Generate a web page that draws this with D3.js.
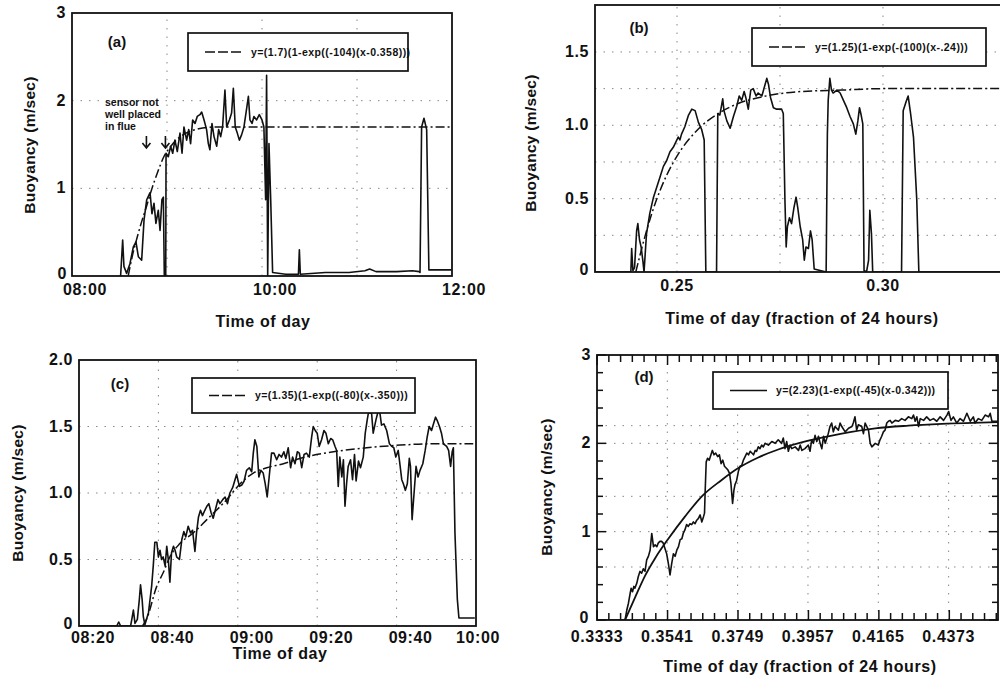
<!DOCTYPE html>
<html>
<head>
<meta charset="utf-8">
<script src="https://cdn.jsdelivr.net/npm/d3@7"></script>
<style>
  body { margin: 0; background: #fff; }
  svg text { font-family: "Liberation Sans", Arial, Helvetica, sans-serif; font-weight: bold; fill: #111; }
</style>
</head>
<body>
<svg id="fig" width="1000" height="680"></svg>
<script>
// ---- panel (a): minutes after 08:00, buoyancy m/s
const aSeries = [[30.7,0],[32.0,0.41],[32.8,0.11],[34.5,0.03],[36.6,0.14],[38.7,0.33],[40.4,0.39],[41.9,0.22],[44.0,0.18],
  [45.5,0.64],[47.2,0.87],[49.3,0.95],[50.5,0.71],[51.8,0.83],[53.0,0.60],[54.5,0.75],[55.6,0.52],[56.8,0.87],[57.7,0.90],
  [58.3,0],[59.2,0],[59.4,1.40],[60.8,1.36],[62.3,1.48],[63.6,1.40],[65.0,1.55],[66.5,1.42],[68.2,1.63],[69.5,1.40],
  [70.7,1.70],[72.4,1.55],[73.7,1.67],[74.9,1.51],[76.2,1.78],[77.7,1.74],[79.1,1.82],[80.8,1.84],[81.9,1.87],[83.4,1.78],
  [85.0,1.67],[86.1,1.51],[87.1,1.44],[88.4,1.74],[89.7,1.59],[91.4,1.48],[92.6,1.67],[93.9,1.59],[95.1,1.70],[96.6,2.12],
  [97.7,1.70],[99.4,1.78],[100.8,1.86],[101.9,2.14],[103.1,1.70],[104.4,1.63],[105.7,1.55],[107.1,1.61],[108.6,1.70],
  [109.9,1.86],[111.4,2.05],[112.4,1.78],[113.7,1.74],[114.9,1.82],[116.6,1.78],[118.3,1.84],[120.0,1.78],[121.2,1.70],
  [122.3,0.87],[122.9,2.29],[123.6,0],[124.4,1.51],[125.5,0.87],[126.7,0.04],[135,0.02],[143.0,0.02],[143.6,0.30],
  [144.2,0.02],[160,0.04],[175,0.04],[185,0.06],[188,0.08],[192,0.05],[205,0.05],[215,0.06],[219.3,0.05],[219.8,0.04],
  [220.8,1.70],[222.3,1.80],[224.0,1.67],[225.4,0.07],[239.8,0.07]];
const aFit = [[35.5,0],[38,0.22],[41,0.43],[44,0.62],[47,0.79],[50,0.97],[54,1.18],[58,1.36],[62,1.47],[67,1.57],
  [72,1.63],[80,1.68],[90,1.70],[240,1.70]];
const aXTicks = [0, 120, 240];
const aXLabels = ["08:00", "10:00", "12:00"];
const aYTicks = [0, 1, 2, 3];
const aYLabels = ["0", "1", "2", "3"];

// ---- panel (b): fraction of 24 hours
const bSeries = [[0.2301,0],[0.2388,0],[0.2390,0.16],[0.2393,0.01],[0.2397,0.03],[0.2402,0.28],[0.2405,0.33],[0.2409,0.22],
  [0.2413,0.17],[0.2417,0.08],[0.2420,0],[0.2426,0.26],[0.2434,0.40],[0.2443,0.51],[0.2451,0.58],[0.2459,0.65],[0.2467,0.72],
  [0.2475,0.76],[0.2483,0.82],[0.2491,0.85],[0.2498,0.89],[0.2503,0.92],[0.2507,0.90],[0.2511,0.94],[0.2519,0.99],
  [0.2528,1.07],[0.2536,1.11],[0.2544,1.10],[0.2552,1.02],[0.2560,0.97],[0.2566,0.90],[0.2570,0],[0.2596,0],[0.2599,1.08],
  [0.2604,1.07],[0.2611,1.18],[0.2614,1.10],[0.2621,1.03],[0.2629,0.98],[0.2637,1.06],[0.2645,1.13],[0.2651,1.20],
  [0.2657,1.17],[0.2663,1.23],[0.2667,1.19],[0.2673,1.11],[0.2679,1.24],[0.2685,1.25],[0.2692,1.20],[0.2697,1.22],
  [0.2706,1.20],[0.2714,1.28],[0.2718,1.32],[0.2722,1.28],[0.2727,1.19],[0.2734,1.12],[0.2742,1.11],[0.2754,1.11],
  [0.2758,1.08],[0.2762,0.49],[0.2765,0.17],[0.2768,0.31],[0.2773,0.37],[0.2778,0.33],[0.2784,0.44],[0.2789,0.51],
  [0.2793,0.44],[0.2799,0.31],[0.2805,0.22],[0.2809,0.08],[0.2813,0.17],[0.2819,0.16],[0.2824,0.28],[0.2828,0.22],
  [0.2833,0.02],[0.2862,0],[0.2865,0.94],[0.2867,1.17],[0.2871,1.32],[0.2875,1.24],[0.2879,1.22],[0.2888,1.24],
  [0.2896,1.22],[0.2904,1.17],[0.2912,1.12],[0.2920,1.06],[0.2928,1.01],[0.2934,0.94],[0.2939,1.03],[0.2943,1.12],
  [0.2947,1.07],[0.2951,1.01],[0.2954,0.01],[0.2960,0],[0.2965,0.08],[0.2968,0.42],[0.2972,0.26],[0.2975,0],[0.3045,0],
  [0.3049,1.10],[0.3056,1.16],[0.3061,1.20],[0.3067,1.08],[0.3074,0.92],[0.3082,0.49],[0.3087,0],[0.3300,0]];
const bFit = [[0.2400,0],[0.2425,0.27],[0.2450,0.49],[0.2475,0.66],[0.2500,0.79],[0.2550,0.97],[0.2600,1.08],[0.2650,1.15],
  [0.2700,1.19],[0.2800,1.23],[0.2900,1.24],[0.3000,1.25],[0.3300,1.25]];
const bXTicks = [0.25, 0.30];
const bXLabels = ["0.25", "0.30"];
const bYTicks = [0, 0.5, 1.0, 1.5];
const bYLabels = ["0", "0.5", "1.0", "1.5"];

// ---- panel (c): minutes after 08:00
const cSeries = [[20,0],[29.5,0],[30.0,0.03],[30.5,0],[33.0,0],[33.3,0.05],[33.7,0.12],[34.1,0.02],[34.7,0.05],[35.2,0.20],
  [35.5,0.31],[35.9,0.20],[36.2,0.07],[36.6,0.01],[37.0,0.05],[37.5,0.10],[37.9,0.20],[38.3,0.30],[38.7,0.45],[39.1,0.63],
  [39.6,0.63],[40.0,0.52],[40.4,0.57],[40.8,0.50],[41.2,0.52],[41.7,0.45],[42.1,0.60],[42.5,0.50],[42.9,0.33],[43.3,0.55],
  [43.8,0.60],[44.2,0.57],[44.6,0.52],[45.3,0.50],[45.9,0.65],[46.4,0.71],[46.9,0.67],[47.5,0.75],[48.1,0.70],[48.6,0.72],
  [49.2,0.56],[49.6,0.70],[50.1,0.82],[50.6,0.87],[51.1,0.83],[51.7,0.87],[52.2,0.90],[52.7,0.92],[53.3,0.85],[53.8,0.81],
  [54.4,0.88],[55.0,0.95],[55.5,0.92],[56.2,0.95],[56.8,0.97],[57.4,0.92],[58.0,1.00],[58.7,1.04],[59.3,1.10],[59.7,1.14],
  [60.4,1.05],[61.0,1.06],[61.6,1.09],[62.2,1.17],[62.9,1.19],[63.5,1.16],[63.9,1.30],[64.3,1.40],[64.8,1.35],[65.3,1.12],
  [65.8,1.17],[66.4,1.15],[66.9,1.07],[67.4,0.97],[67.9,1.12],[68.5,1.30],[69.1,1.30],[69.8,1.25],[70.4,1.29],[71.0,1.27],
  [71.6,1.31],[72.1,1.26],[72.7,1.34],[73.3,1.19],[73.8,1.27],[74.4,1.22],[75.0,1.31],[75.5,1.30],[76.1,1.19],[76.7,1.29],
  [77.3,1.30],[78.0,1.27],[78.6,1.42],[79.0,1.50],[79.5,1.47],[80.0,1.45],[80.5,1.35],[81.1,1.40],[81.7,1.47],[82.2,1.45],
  [82.8,1.37],[83.4,1.41],[83.9,1.40],[84.5,1.35],[84.9,1.32],[85.3,1.05],[85.7,1.27],[86.2,1.12],[86.6,1.25],[87.0,0.90],
  [87.4,1.07],[87.8,1.20],[88.4,1.25],[88.9,1.10],[89.4,1.29],[89.8,1.09],[90.4,1.24],[90.9,1.19],[91.6,1.27],[92.1,1.45],
  [92.6,1.55],[93.0,1.62],[93.3,1.60],[93.7,1.60],[94.1,1.45],[94.8,1.55],[95.4,1.62],[95.8,1.60],[96.2,1.51],[96.8,1.52],
  [97.5,1.47],[98.2,1.37],[98.8,1.35],[99.3,1.34],[99.8,1.27],[100.4,1.32],[100.9,1.20],[101.3,1.10],[101.7,1.07],
  [102.2,1.02],[102.7,1.07],[103.2,1.26],[103.5,1.20],[103.9,0.80],[104.4,1.00],[104.9,1.20],[105.4,1.12],[105.9,1.17],
  [106.6,1.22],[107.2,1.32],[107.7,1.42],[108.2,1.50],[108.8,1.47],[109.3,1.52],[109.8,1.57],[110.3,1.54],[110.8,1.50],
  [111.3,1.45],[111.8,1.37],[112.2,1.36],[112.6,1.35],[113.1,1.32],[113.6,1.20],[114.0,1.31],[114.3,1.34],[114.7,0.70],
  [115.3,0.20],[115.7,0.06],[119.7,0.06]];
const cFit = [[36.0,0],[37.0,0.05],[39.6,0.30],[41.2,0.40],[42.9,0.52],[45.4,0.62],[48.8,0.70],[52.2,0.80],[57.2,0.95],
  [60.6,1.07],[63.9,1.15],[67.3,1.19],[71.5,1.22],[75.7,1.26],[84.1,1.31],[92.5,1.34],[100.9,1.36],[109.2,1.37],[119.3,1.37]];
const cXTicks = [20, 40, 60, 80, 100, 120];
const cXLabels = ["08:20", "08:40", "09:00", "09:20", "09:40", "10:00"];
const cYTicks = [0, 0.5, 1.0, 1.5, 2.0];
const cYLabels = ["0", "0.5", "1.0", "1.5", "2.0"];

// ---- panel (d): fraction of 24 hours
const dSeries = [[0.3333,0],[0.3416,0],[0.3421,0.11],[0.3426,0.19],[0.3431,0.30],[0.3434,0.36],[0.3438,0.32],[0.3442,0.38],
  [0.3445,0.36],[0.3451,0.42],[0.3455,0.49],[0.3460,0.55],[0.3465,0.53],[0.3470,0.58],[0.3475,0.55],[0.3480,0.68],
  [0.3485,0.72],[0.3490,0.79],[0.3495,0.98],[0.3500,0.83],[0.3505,0.85],[0.3510,0.83],[0.3514,0.87],[0.3519,0.89],
  [0.3524,0.89],[0.3529,0.87],[0.3534,0.81],[0.3539,0.75],[0.3544,0.64],[0.3549,0.51],[0.3554,0.64],[0.3559,0.75],
  [0.3564,0.72],[0.3569,0.79],[0.3574,0.83],[0.3579,0.91],[0.3584,0.92],[0.3588,0.98],[0.3593,1.02],[0.3598,1.08],
  [0.3603,1.06],[0.3608,1.09],[0.3613,1.08],[0.3618,1.11],[0.3623,1.09],[0.3628,1.13],[0.3633,1.15],[0.3638,1.19],
  [0.3643,1.11],[0.3648,1.17],[0.3651,1.21],[0.3653,1.47],[0.3656,1.79],[0.3660,1.83],[0.3665,1.81],[0.3670,1.87],
  [0.3674,1.92],[0.3679,1.87],[0.3684,1.89],[0.3690,1.85],[0.3695,1.87],[0.3700,1.77],[0.3705,1.81],[0.3710,1.74],
  [0.3715,1.72],[0.3720,1.70],[0.3725,1.66],[0.3729,1.55],[0.3734,1.32],[0.3738,1.47],[0.3741,1.53],[0.3746,1.58],
  [0.3751,1.68],[0.3756,1.74],[0.3761,1.75],[0.3766,1.81],[0.3771,1.85],[0.3776,1.89],[0.3781,1.87],[0.3786,1.91],
  [0.3791,1.89],[0.3796,1.87],[0.3801,1.92],[0.3805,1.91],[0.3810,1.96],[0.3815,1.94],[0.3820,1.98],[0.3825,1.96],
  [0.3830,2.00],[0.3840,1.98],[0.3850,2.02],[0.3860,2.00],[0.3869,2.04],[0.3879,2.00],[0.3884,2.06],[0.3889,1.94],
  [0.3894,2.02],[0.3899,1.91],[0.3904,1.98],[0.3909,1.94],[0.3919,1.96],[0.3929,1.92],[0.3934,1.98],[0.3939,1.92],
  [0.3948,1.94],[0.3958,1.98],[0.3963,1.91],[0.3968,2.04],[0.3973,2.00],[0.3978,2.09],[0.3983,2.02],[0.3988,2.08],
  [0.3993,2.00],[0.3998,1.94],[0.4003,2.08],[0.4008,2.00],[0.4017,2.11],[0.4022,2.19],[0.4027,2.23],[0.4032,2.13],
  [0.4037,2.19],[0.4047,2.15],[0.4052,2.23],[0.4057,2.19],[0.4067,2.13],[0.4077,2.17],[0.4087,2.19],[0.4091,2.23],
  [0.4096,2.30],[0.4101,2.15],[0.4106,2.21],[0.4116,2.19],[0.4121,2.11],[0.4126,2.23],[0.4131,2.19],[0.4136,2.15],
  [0.4141,2.00],[0.4146,1.96],[0.4156,2.00],[0.4165,1.98],[0.4170,2.04],[0.4175,2.08],[0.4180,2.13],[0.4185,2.15],
  [0.4190,2.23],[0.4195,2.25],[0.4200,2.26],[0.4205,2.23],[0.4215,2.26],[0.4225,2.25],[0.4234,2.28],[0.4244,2.26],
  [0.4254,2.30],[0.4264,2.28],[0.4269,2.32],[0.4274,2.25],[0.4279,2.30],[0.4284,2.19],[0.4289,2.28],[0.4299,2.26],
  [0.4308,2.30],[0.4318,2.26],[0.4328,2.28],[0.4338,2.25],[0.4348,2.30],[0.4358,2.26],[0.4368,2.32],[0.4373,2.36],
  [0.4380,2.26],[0.4387,2.30],[0.4397,2.23],[0.4407,2.28],[0.4417,2.25],[0.4427,2.34],[0.4437,2.25],[0.4446,2.30],
  [0.4451,2.23],[0.4461,2.28],[0.4471,2.26],[0.4481,2.32],[0.4491,2.30],[0.4496,2.34],[0.4501,2.25],[0.4511,2.25],[0.4519,2.25]];
const dFit = [[0.3416,0],[0.3445,0.25],[0.3475,0.50],[0.3505,0.70],[0.3544,0.92],[0.3593,1.17],[0.3643,1.40],[0.3700,1.58],
  [0.3751,1.72],[0.3810,1.84],[0.3869,1.93],[0.3958,2.03],[0.4057,2.11],[0.4156,2.17],[0.4254,2.20],[0.4353,2.22],[0.4519,2.24]];
const dXTicks = [0.3333, 0.3541, 0.3749, 0.3957, 0.4165, 0.4373];
const dXLabels = ["0.3333", "0.3541", "0.3749", "0.3957", "0.4165", "0.4373"];
const dYTicks = [0, 1, 2, 3];
const dYLabels = ["0", "1", "2", "3"];

const legendTexts = ["y=(1.7)(1-exp((-104)(x-0.358)))", "y=(1.25)(1-exp(-(100)(x-.24)))",
  "y=(1.35)(1-exp((-80)(x-.350)))", "y=(2.23)(1-exp((-45)(x-0.342)))"];

const svg = d3.select("#fig");
const dashFit = "9,3,2,3";

function drawPanel(p) {
  const x = d3.scaleLinear().domain(p.xDomain).range(p.xRange);
  const y = d3.scaleLinear().domain(p.yDomain).range(p.yRange);
  const [x0, x1] = p.xRange;
  const [yb, yt] = p.yRange;
  const g = svg.append("g");

  svg.append("clipPath").attr("id", "clip-" + p.id)
    .append("rect").attr("x", x0).attr("y", yt).attr("width", x1 - x0).attr("height", yb - yt);

  // dotted grid, faint like the scan
  g.append("g").selectAll("line").data(p.yGrid).join("line")
    .attr("x1", x0).attr("x2", x1).attr("y1", d => y(d)).attr("y2", d => y(d))
    .attr("stroke", "#888").attr("stroke-width", 1).attr("stroke-dasharray", "1.5,7");
  g.append("g").selectAll("line").data(p.xGrid).join("line")
    .attr("y1", yb).attr("y2", yt).attr("x1", d => x(d)).attr("x2", d => x(d))
    .attr("stroke", "#888").attr("stroke-width", 1).attr("stroke-dasharray", "1.5,7");

  // minor ticks (panel d)
  if (p.minorX) {
    [[yb, -1], [yt, 1]].forEach(([base, dir]) => {
      g.append("g").selectAll("line").data(p.minorX).join("line")
        .attr("x1", d => x(d)).attr("x2", d => x(d)).attr("y1", base)
        .attr("y2", (d, i) => base + dir * (i % 6 === 0 ? 10 : 7))
        .attr("stroke", "#111").attr("stroke-width", 1.5);
    });
  }
  if (p.minorY) {
    [[x0, 1], [x1, -1]].forEach(([base, dir]) => {
      g.append("g").selectAll("line").data(p.minorY).join("line")
        .attr("y1", d => y(d)).attr("y2", d => y(d)).attr("x1", base)
        .attr("x2", (d, i) => base + dir * (i % 5 === 0 ? 9 : 6))
        .attr("stroke", "#111").attr("stroke-width", 1.5);
    });
  }

  // fit curve and measured series
  const line = d3.line().x(d => x(d[0])).y(d => y(d[1]));
  g.append("path").attr("clip-path", `url(#clip-${p.id})`)
    .attr("d", line.curve(d3.curveMonotoneX)(p.fit))
    .attr("fill", "none").attr("stroke", "#111").attr("stroke-width", p.fitSolid ? 1.8 : 1.5)
    .attr("stroke-dasharray", p.fitSolid ? null : dashFit);
  g.append("path").attr("clip-path", `url(#clip-${p.id})`)
    .attr("d", line.curve(d3.curveLinear)(p.series))
    .attr("fill", "none").attr("stroke", "#111").attr("stroke-width", 1.6).attr("stroke-linejoin", "round");

  // frame
  g.append("rect").attr("x", x0).attr("y", yt).attr("width", x1 - x0).attr("height", yb - yt)
    .attr("fill", "none").attr("stroke", "#111").attr("stroke-width", 1.8);

  // tick labels
  g.append("g").selectAll("text").data(p.xTicks).join("text")
    .attr("x", (d, i) => x(d) + (i === p.xTicks.length - 1 ? p.xDxLast : p.xDx))
    .attr("y", yb + p.xLabelDy).attr("text-anchor", "middle").attr("font-size", 16).attr("letter-spacing", 0.6)
    .text((d, i) => p.xLabels[i]);
  g.append("g").selectAll("text").data(p.yTicks).join("text")
    .attr("x", d => x0 - (d === 0 ? p.zeroDx : 6)).attr("y", d => y(d) + (d === 0 ? 3 : 5))
    .attr("text-anchor", "end").attr("font-size", 16)
    .attr("letter-spacing", 0.6).text((d, i) => p.yLabels[i]);

  // axis titles
  g.append("text").attr("x", p.xTitlePos[0]).attr("y", p.xTitlePos[1]).attr("text-anchor", "middle")
    .attr("font-size", 16).attr("letter-spacing", 0.6).text(p.xTitle);
  g.append("text").attr("transform", `translate(${p.yTitlePos[0]},${p.yTitlePos[1]}) rotate(-90)`)
    .attr("text-anchor", "middle").attr("font-size", 15.5).attr("letter-spacing", 0.3)
    .attr("dy", "0.35em").text(p.yTitle);

  // panel tag
  g.append("text").attr("x", p.tagPos[0]).attr("y", p.tagPos[1]).attr("text-anchor", "middle")
    .attr("font-size", 15).text(p.tag);

  // legend box
  const [lx, ly, lw, lh] = p.legend;
  const lg = g.append("g");
  lg.append("rect").attr("x", lx).attr("y", ly).attr("width", lw).attr("height", lh)
    .attr("fill", "#fff").attr("stroke", "#111").attr("stroke-width", 1.7);
  lg.append("line").attr("x1", lx + 17).attr("x2", lx + 54).attr("y1", ly + lh / 2).attr("y2", ly + lh / 2)
    .attr("stroke", "#111").attr("stroke-width", 1.5)
    .attr("stroke-dasharray", p.fitSolid ? null : "10,3");
  lg.append("text").attr("x", lx + 63).attr("y", ly + lh / 2 + 3.5).attr("font-size", 10.5)
    .attr("letter-spacing", 0.45).text(p.legendText);
  return { x, y, g };
}

const pa = drawPanel({
  id: "a", xDomain: [0, 240], xRange: [72, 452], yDomain: [0, 3], yRange: [276, 13],
  series: aSeries, fit: aFit, xTicks: aXTicks, xLabels: aXLabels, yTicks: aYTicks, yLabels: aYLabels,
  xDx: 13, xDxLast: 12, xLabelDy: 19, zeroDx: 5, yGrid: [1, 2], xGrid: [60, 120, 180],
  xTitle: "Time of day", xTitlePos: [263, 327], yTitle: "Buoyancy (m/sec)", yTitlePos: [30, 145],
  tag: "(a)", tagPos: [117, 47], legend: [188, 33, 220, 38], legendText: legendTexts[0]
});
drawPanel({
  id: "b", xDomain: [0.2301, 0.33], xRange: [595, 1006.6], yDomain: [0, 1.82], yRange: [272, 5],
  series: bSeries, fit: bFit, xTicks: bXTicks, xLabels: bXLabels, yTicks: bYTicks, yLabels: bYLabels,
  xDx: 0, xDxLast: 0, xLabelDy: 19, zeroDx: 6, yGrid: [0.25, 0.5, 0.75, 1.0, 1.25, 1.5], xGrid: [0.25, 0.275, 0.30],
  xTitle: "Time of day (fraction of 24 hours)", xTitlePos: [802, 324], yTitle: "Buoyancy (m/sec)", yTitlePos: [531, 143],
  tag: "(b)", tagPos: [639, 33], legend: [752, 28, 234, 38], legendText: legendTexts[1]
});
drawPanel({
  id: "c", xDomain: [20, 120], xRange: [79, 476], yDomain: [0, 2], yRange: [626, 360],
  series: cSeries, fit: cFit, xTicks: cXTicks, xLabels: cXLabels, yTicks: cYTicks, yLabels: cYLabels,
  xDx: 14, xDxLast: 2, xLabelDy: 17, zeroDx: 6, yGrid: [0.5, 1.0, 1.5], xGrid: [40, 60, 80, 100],
  xTitle: "Time of day", xTitlePos: [280, 659], yTitle: "Buoyancy (m/sec)", yTitlePos: [18, 493],
  tag: "(c)", tagPos: [120, 389], legend: [192, 378, 223, 35], legendText: legendTexts[2]
});
drawPanel({
  id: "d", xDomain: [0.3333, 0.4519], xRange: [597, 998], yDomain: [0, 3], yRange: [620, 355],
  series: dSeries, fit: dFit, fitSolid: true, xTicks: dXTicks, xLabels: dXLabels, yTicks: dYTicks, yLabels: dYLabels,
  xDx: 0, xDxLast: 0, xLabelDy: 22, zeroDx: 8, yGrid: [0.6, 1, 1.4, 2, 2.2], xGrid: [0.3541, 0.3749, 0.3957, 0.4165, 0.4373],
  minorX: d3.range(0, 35).map(k => 1 / 3 + k / 288), minorY: d3.range(0, 16).map(k => k * 0.2),
  xTitle: "Time of day (fraction of 24 hours)", xTitlePos: [800, 672], yTitle: "Buoyancy  (m/sec)", yTitlePos: [547, 487],
  tag: "(d)", tagPos: [644, 382], legend: [713, 372, 235, 37], legendText: legendTexts[3]
});

// annotation in panel (a)
const note = pa.g.append("text").attr("font-size", 10.5);
["sensor not", "well placed", "in flue"].forEach((t, i) =>
  note.append("tspan").attr("x", 105).attr("y", 106 + i * 12).text(t));
[47.0, 59.0].forEach(m => {
  const ax = pa.x(m);
  pa.g.append("path")
    .attr("d", `M${ax},${136}V${148}M${ax - 4},${143}L${ax},${148}L${ax + 4},${143}`)
    .attr("fill", "none").attr("stroke", "#111").attr("stroke-width", 1.6);
});
</script>
</body>
</html>
